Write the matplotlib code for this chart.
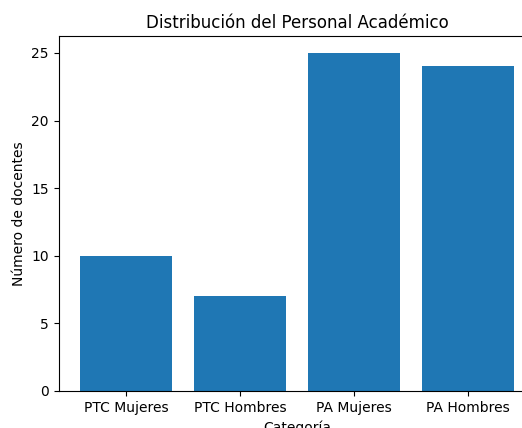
import matplotlib
matplotlib.use('Agg')
import matplotlib.pyplot as plt

categorias = ['PTC Mujeres', 'PTC Hombres', 'PA Mujeres', 'PA Hombres']
docentes = [10, 7, 25, 24]

fig = plt.figure(figsize=(5.22, 4.28), dpi=100)
# the original image was cropped on the right and bottom
ax = fig.add_axes([58.7 / 522, 37 / 428, 476.5 / 522, 355 / 428])

ax.bar(categorias, docentes, color='#1f77b4')
ax.set_title('Distribución del Personal Académico')
ax.set_xlabel('Categoría')
ax.set_ylabel('Número de docentes')

fig.savefig('out.png', dpi=100)
